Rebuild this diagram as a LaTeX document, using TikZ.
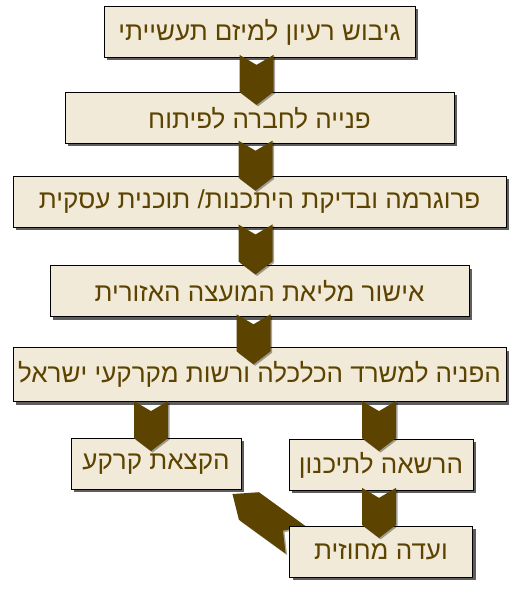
\documentclass[tikz,border=0pt]{standalone}
\usepackage{fontspec}
\newfontfamily\hebfont[Script=Hebrew]{Liberation Sans}
\TeXXeTstate=1
\usetikzlibrary{positioning, shadows, backgrounds, calc}
\definecolor{chevbrown}{RGB}{92,67,0}
\definecolor{boxfill}{RGB}{242,234,216}

\tikzset{
  pics/chev/.style={code={
    \fill[chevbrown, drop shadow={shadow xshift=1.5pt, shadow yshift=-1.5pt, fill=black, opacity=0.35}]
      (-17,0) -- (0,-10) -- (17,0) -- (17,-37) -- (0,-50) -- (-17,-37) -- cycle;}}
}

\begin{document}
\begin{tikzpicture}[x=1pt, y=1pt,
    stage/.style={draw=black, line width=0.8pt, fill=boxfill, text=chevbrown,
      font=\hebfont\fontsize{26}{30}\selectfont, minimum height=51pt, inner xsep=3pt,
      drop shadow={shadow xshift=3pt, shadow yshift=-3pt, fill=black!70, opacity=0.9}}]
    \useasboundingbox (0,0) rectangle (514,594);

    \node[stage, minimum width=311pt] (idea) at (259.5,562) {\beginR גיבוש רעיון למיזם תעשייתי\endR};
    \node[stage, minimum width=389pt, below=34pt of idea] (company) {\beginR פנייה לחברה לפיתוח\endR};
    \node[stage, minimum width=493pt, below=32pt of company] (program) {\beginR פרוגרמה ובדיקת היתכנות/ תוכנית עסקית\endR};
    \node[stage, minimum width=419pt, below=38pt of program] (council) {\beginR אישור מליאת המועצה האזורית\endR};
    \node[stage, minimum width=493pt, minimum height=54pt, below=30pt of council] (ministry) {\beginR הפניה למשרד הכלכלה ורשות מקרקעי ישראל\endR};

    \node[stage, minimum width=170pt, anchor=north west] (land) at ($(ministry.south west)+(58,-36)$) {\beginR הקצאת קרקע\endR};
    \node[stage, minimum width=184pt, anchor=north east] (permit) at ($(ministry.south east)+(-33,-37)$) {\beginR הרשאה לתיכנון\endR};
    \node[stage, minimum width=183pt, below=35pt of permit] (committee) {\beginR ועדה מחוזית\endR};

    % chevrons between the stages
    \pic at ($(idea.south)+(-3,3)$) {chev};
    \pic at ($(company.south)+(-4,3)$) {chev};
    \pic at ($(program.south)+(-4,3)$) {chev};
    \pic at ($(council.south)+(-6,3)$) {chev};
    \pic at ($(ministry.south -| land.north)+(-5,1)$) {chev};
    \pic at ($(ministry.south -| permit.north)+(-2,1)$) {chev};
    \pic at ($(permit.south)+(-2,3)$) {chev};
    \begin{scope}[on background layer]
      \pic[rotate=-126, yscale=1.56] at ($(committee.north west)+(6.5,-14)$) {chev};
    \end{scope}
\end{tikzpicture}
\end{document}
